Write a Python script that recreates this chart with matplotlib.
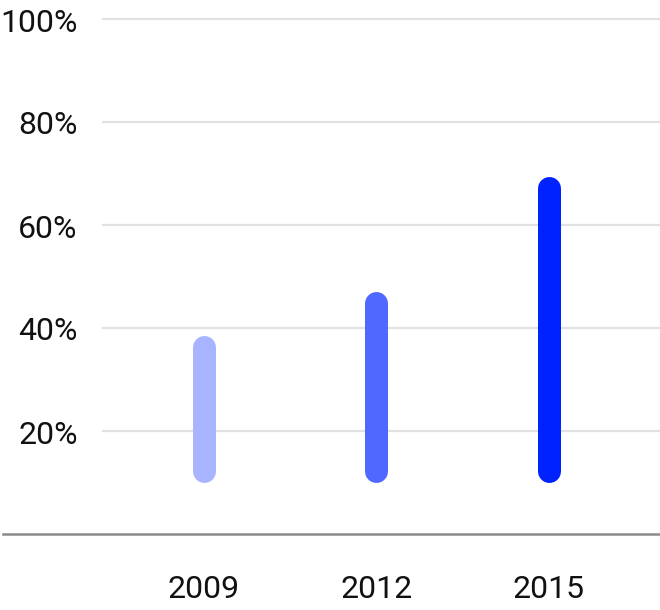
import matplotlib
matplotlib.use("Agg")
import matplotlib.pyplot as plt
from matplotlib.transforms import blended_transform_factory

categories = ["2009", "2012", "2015"]
low_values = [10, 10, 10]
high_values = [38.5, 47, 69.5]
bar_colors = ["#a8b4ff", "#5068ff", "#0022ff"]
y_ticks = [20, 40, 60, 80, 100]
y_tick_labels = ["20%", "40%", "60%", "80%", "100%"]

W, H, DPI = 660, 610, 100
fig = plt.figure(figsize=(W / DPI, H / DPI), dpi=DPI)
fig.patch.set_facecolor("white")

ax_left_px, ax_right_px = 3, 660
ax_top_px, ax_bot_px = 19, 534
ax = fig.add_axes([ax_left_px / W, (H - ax_bot_px) / H,
                   (ax_right_px - ax_left_px) / W, (ax_bot_px - ax_top_px) / H])
ax.set_ylim(0, 100)
ax.set_xlim(-1.161, 2.643)
for s in ax.spines.values():
    s.set_visible(False)
ax.set_xticks([])
ax.set_yticks([])

px_per_unit = (ax_bot_px - ax_top_px) / 100.0
label_tr = blended_transform_factory(fig.transFigure, ax.transData)
grid_start = (103 - ax_left_px) / (ax_right_px - ax_left_px)
for t, lab in zip(y_ticks, y_tick_labels):
    ax.axhline(t, xmin=grid_start, xmax=1, color="#e2e2e2", lw=1.6, clip_on=False, zorder=1)
    ax.text(77.5 / W, t - 12.5 / px_per_unit, lab, transform=label_tr, ha="right", va="baseline",
            fontsize=23, family="Roboto", color="#111111", clip_on=False)

ax.axhline(0, color="#8a8a8a", lw=1.8, clip_on=False, zorder=2)

lw_px = 23
lw_pt = lw_px * 72 / DPI
r = (lw_px / 2) / px_per_unit
for i, (lo, hi, c) in enumerate(zip(low_values, high_values, bar_colors)):
    ax.plot([i, i], [lo + r, hi - r], color=c, lw=lw_pt, solid_capstyle="round", zorder=3)
    ax.text(i, -64 / px_per_unit, categories[i], ha="center", va="baseline", fontsize=23,
            family="Roboto", color="#111111", clip_on=False)

fig.savefig("out.png", dpi=DPI, facecolor="white")
